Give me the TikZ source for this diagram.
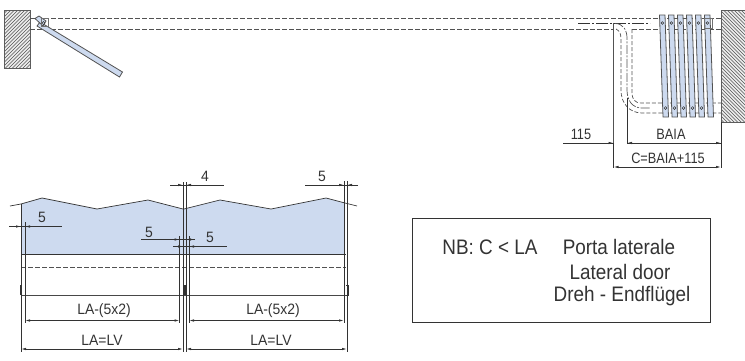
\documentclass[tikz,border=0pt]{standalone}
\usepackage{fontspec}
\setmainfont{Liberation Sans}
\usetikzlibrary{arrows.meta}
\definecolor{leafblue}{HTML}{CDDAEF}
\definecolor{ink}{HTML}{333333}
\tikzset{
 leaf/.style={draw=ink!85,line width=.8pt,fill=leafblue},
 dashline/.style={draw=ink!85,line width=.7pt,dash pattern=on 5pt off 2pt},
 shortdash/.style={draw=ink!85,line width=.7pt,dash pattern=on 4pt off 2pt},
 dim/.style={draw=ink,line width=.7pt},
 dimarrow/.style={draw=ink,line width=.7pt,{Latex[length=5pt,width=2.4pt]}-{Latex[length=5pt,width=2.4pt]}},
 arrowin/.style={draw=ink,line width=.7pt,-{Latex[length=5pt,width=2.4pt]}},
 ext/.style={draw=ink,line width=.8pt},
 lab/.style={inner sep=0pt,text=ink,font=\fontsize{15}{15}\selectfont,xscale=.93},
 labn/.style={inner sep=0pt,text=ink,font=\fontsize{15}{15}\selectfont,xscale=.85},
 boxtext/.style={inner sep=0pt,text=ink,font=\fontsize{21}{21}\selectfont,xscale=.9},
}
\begin{document}
\begin{tikzpicture}[x=1pt,y=-1pt]
\useasboundingbox (0,0) rectangle (745,360);
% walls
\begin{scope}
\clip (4,10) rectangle (30,68);
\fill[gray!15] (4,10) rectangle (30,68);
\foreach \i in {-70,-66.5,...,40}{\draw[ink!85,line width=.6pt] (\i,70)--(\i+62,8);}
\end{scope}
\draw[ink!80,line width=.7pt] (4,10) rectangle (30,68);
\begin{scope}
\clip (721,10) rectangle (745,122);
\fill[gray!15] (721,10) rectangle (745,122);
\foreach \i in {-120,-116.5,...,30}{\draw[ink!85,line width=.6pt] (721+\i,10)--(721+\i+120,130);}
\end{scope}
\draw[ink!80,line width=.7pt] (745,10)--(721,10)--(721,122)--(745,122);
% guide lines
\coordinate (gl1) at (30,18);\coordinate (gr1) at (721,18);
\coordinate (gl2) at (30,29);\coordinate (gr2) at (613,29);
\coordinate (gr3) at (632,29);\coordinate (gr4) at (721,29);
\draw[dashline] (gl1)--(gr1);
\draw[dashline] (gl2)--(gr2);
\draw[dashline] (gr3)--(gr4);
% open leaf
\draw[leaf] (40,22)--(122.5,72)--(119.5,77)--(37,26)--cycle;
\draw[leaf] (35,18.5)--(39,16)--(46,21)--(43,26)--cycle;
\draw[ink!70,line width=.5pt,fill=none] (41.5,18) rectangle (48.5,26);
\draw[ink,line width=.5pt] (43.5,23) circle (1.6pt);
% track curves
\draw[draw=ink!85,line width=.9pt] (613.5,23)--(613.5,143);
\draw[draw=ink,line width=.7pt,dash pattern=on 12pt off 2pt on 2pt off 2pt] (578,23.5)--(650,23.5);
\draw[draw=ink!85,line width=.7pt,dash pattern=on 9pt off 1.5pt on 2pt off 1.5pt] (615,23.5) .. controls (623,23.5) and (627,30) .. (627,38)--(627,90) .. controls (627,100) and (632,108) .. (642,108)--(650,108);
\draw[shortdash] (616,29) .. controls (620,31) and (621,34) .. (621,40)--(621,90) .. controls (621,104) and (630,113) .. (642,113)--(721,113);
\draw[shortdash] (632,29)--(632,92) .. controls (632,99) and (634,103) .. (642,103)--(721,103);
\draw[ext] (627,98)--(627,143);
% stacked leaves
\foreach \x in {0,9,...,45}{
 \draw[leaf] (659.5+\x,15)--(665+\x,15)--(668.5+\x,117)--(663+\x,117)--cycle;
 \draw[ink,line width=.5pt] (662.3+\x,23) circle (1.4pt);
}
\foreach \x in {0,9,...,36}{
 \draw[ink,line width=.5pt] (665.5+\x,108) circle (1.4pt);
}
\draw[ink!70,line width=.5pt] (704,18) rectangle (712,28);
% dims top right
\node[labn] (n115) at (581,134) {115};
\node[labn] (nbaia) at (671,134) {BAIA};
\node[labn] (nc) at (668,158) {C=BAIA+115};
\coordinate (a1) at (563,143);\coordinate (a2) at (613.5,143);
\coordinate (a3) at (627,143);\coordinate (a4) at (721,143);
\coordinate (b1) at (613.5,167);\coordinate (b2) at (721,167);
\draw[dim] (a1)--(a2);
\draw[arrowin] (600,143)--(a2);
\draw[dim] (a3)--(a4);
\draw[arrowin] (640,143)--(a3);
\draw[arrowin] (705,143)--(a4);
\draw[dimarrow] (b1)--(b2);
\draw[ext] (a2)--(613.5,168);
\draw[ext] (721,122)--(721,168);
% door panels
\fill[leafblue] (21,204)--(42,198)--(97,209)--(148,200)--(183,209)--(183,254)--(21,254)--cycle;
\fill[leafblue] (184,209)--(220,200)--(271,209)--(326,198)--(345,203)--(345,254)--(184,254)--cycle;
\draw[ink,line width=.7pt] (10,206)--(21,204)--(42,198)--(97,209)--(148,200)--(183,209);
\draw[ink,line width=.7pt] (184,209)--(220,200)--(271,209)--(326,198)--(345,203)--(357,206);
\draw[ink,line width=.9pt] (21,254.5)--(346,254.5);
\draw[dashline] (21,267.5)--(346,267.5);
\draw[ink!90,line width=.9pt] (21,295)--(346,295);
% verticals
\draw[ext] (21,204)--(21,352);
\draw[ext] (25,222)--(25,323);
\draw[ext] (179.5,236)--(179.5,323);
\draw[ext] (183,182)--(183,352);
\draw[ext] (186,182)--(186,352);
\draw[ext] (189,236)--(189,323);
\draw[ext] (344,181)--(344,323);
\draw[ext] (347,181)--(347,352);
% handles
\fill[ink] (20,285) rectangle (22,295);
\fill[ink] (183,285) rectangle (186,295);
\draw[ink,line width=.6pt] (346,285)--(348,285)--(348,295)--(346,295);
% dims lower
\draw[dimarrow] (25,320.5)--(179.5,320.5);
\draw[dimarrow] (189,320.5)--(344,320.5);
\draw[dimarrow] (21,349)--(183,349);
\draw[dimarrow] (186,349)--(347,349);
\node[lab] (d1) at (104,311) {LA-(5x2)};
\node[lab] (d2) at (273,311) {LA-(5x2)};
\node[lab] (d3) at (102,340) {LA=LV};
\node[lab] (d4) at (271,340) {LA=LV};
\node[lab] (five1) at (42,217) {5};
\node[lab] (five2) at (149,232) {5};
\node[lab] (five3) at (210,237) {5};
\node[lab] (four) at (205,176) {4};
\node[lab] (five4) at (322,176) {5};
\draw[dim] (9,226.5)--(62,226.5);
\draw[arrowin] (9,226.5)--(21,226.5);
\draw[arrowin] (38,226.5)--(25,226.5);
\draw[dim] (141,239.5)--(195,239.5);
\draw[arrowin] (170,239.5)--(179.5,239.5);
\draw[arrowin] (195,239.5)--(186,239.5);
\draw[dim] (173,246.5)--(227,246.5);
\draw[arrowin] (173,246.5)--(183,246.5);
\draw[arrowin] (200,246.5)--(189,246.5);
\draw[dim] (170,185)--(224,185);
\draw[arrowin] (170,185)--(183,185);
\draw[arrowin] (197,185)--(186,185);
\draw[dim] (305,185)--(357,185);
\draw[arrowin] (335,185)--(344,185);
\draw[arrowin] (358,185)--(347,185);
% note box
\node[draw=ink,line width=.8pt,minimum width=298pt,minimum height=104pt,inner sep=0pt] (notebox) at (561,270) {};
\node[boxtext] (nb) at (490,247) {NB: C < LA};
\node[boxtext] (t1) at (619,247) {Porta laterale};
\node[boxtext] (t2) at (620,272) {Lateral door};
\node[boxtext] (t3) at (622,296) {Dreh - Endflügel};
\end{tikzpicture}
\end{document}
